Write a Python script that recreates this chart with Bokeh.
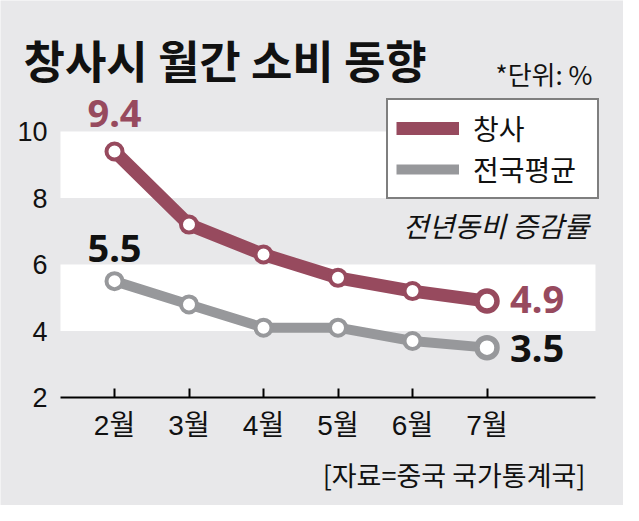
from bokeh.plotting import figure
from bokeh.models import (ColumnDataSource, BoxAnnotation, Label, Legend, LegendItem,
                          FixedTicker)
from bokeh.core.properties import value
from bokeh.embed import file_html
from bokeh.resources import INLINE

# ---- data ----
months = ["2월", "3월", "4월", "5월", "6월", "7월"]
changsha = [9.4, 7.2, 6.3, 5.6, 5.2, 4.9]
national = [5.5, 4.8, 4.1, 4.1, 3.7, 3.5]
y_ticks = [2, 4, 6, 8, 10]
bands = [(4, 6), (8, 10)]
series_names = ["창사", "전국평균"]

title_text = "창사시 월간 소비 동향"
unit_text = "*단위: %"
note_text = "전년동비 증감률"
source_text = "[자료=중국 국가통계국]"

# ---- styles / layout ----
BG = "#e8e8ea"
MAROON = "#974a5e"
GRAY = "#97989b"
INK = "#111111"
CJK = "Noto Sans CJK KR"
NUM = "Liberation Sans, Noto Sans CJK KR"

W, H = 623, 505
X_RANGE = (-1.5302, 6.8322)
Y_RANGE = (-1.248, 13.94)
PLOT_X = (-0.7248, 6.456)      # extent of the plotting area (bands / axis line)
Y_BASE = 2

x = list(range(len(months)))

p = figure(width=W, height=H, output_backend="svg", toolbar_location=None,
           title=None, x_range=X_RANGE, y_range=Y_RANGE, min_border=0)
p.background_fill_color = BG
p.border_fill_color = BG
p.outline_line_color = None
p.grid.visible = False

for lo, hi in bands:
    p.add_layout(BoxAnnotation(left=PLOT_X[0], right=PLOT_X[1], bottom=lo, top=hi,
                               fill_color="white", fill_alpha=1,
                               line_color=None, level="underlay"))

# axes (fixed inside the frame)
p.xaxis.fixed_location = Y_BASE
p.xaxis.bounds = PLOT_X
p.xaxis.ticker = FixedTicker(ticks=x)
p.xaxis.major_label_overrides = {i: m for i, m in zip(x, months)}
p.xaxis.axis_line_color = "black"
p.xaxis.axis_line_width = 2
p.xaxis.major_tick_in = 9
p.xaxis.major_tick_out = 0
p.xaxis.major_tick_line_width = 2
p.xaxis.major_tick_line_color = "black"
p.xaxis.minor_tick_line_color = None
p.xaxis.major_label_text_font = NUM
p.xaxis.major_label_text_font_size = "28px"
p.xaxis.major_label_text_color = INK
p.xaxis.major_label_standoff = 12

p.yaxis.fixed_location = PLOT_X[0]
p.yaxis.ticker = FixedTicker(ticks=y_ticks)
p.yaxis.axis_line_color = None
p.yaxis.major_tick_line_color = None
p.yaxis.minor_tick_line_color = None
p.yaxis.major_label_text_font = NUM
p.yaxis.major_label_text_font_size = "27px"
p.yaxis.major_label_text_color = INK
p.yaxis.major_label_standoff = 7

# series
src = ColumnDataSource(dict(x=x, c=changsha, n=national))
r_c = p.line("x", "c", source=src, line_color=MAROON, line_width=13, line_join="round")
r_n = p.line("x", "n", source=src, line_color=GRAY, line_width=10, line_join="round")

for vals, color in ((changsha, MAROON), (national, GRAY)):
    s_mid = ColumnDataSource(dict(x=x[:-1], y=vals[:-1]))
    s_end = ColumnDataSource(dict(x=x[-1:], y=vals[-1:]))
    p.scatter("x", "y", source=s_mid, size=16, fill_color="white", line_color=color, line_width=4)
    p.scatter("x", "y", source=s_end, size=20, fill_color="white", line_color=color, line_width=5.5)

# value labels (first and last points)
lab_font = "Noto Sans"
first = ColumnDataSource(dict(x=[x[0], x[0]], y=[changsha[0], national[0]],
                              t=[f"{changsha[0]:.1f}", f"{national[0]:.1f}"],
                              c=[MAROON, INK], dy=[-38, -33]))
p.text("x", "y", text="t", source=first, text_color="c", y_offset="dy",
       text_font=value(lab_font), text_font_style="bold", text_font_size="38px",
       text_align="center", text_baseline="middle")
last = ColumnDataSource(dict(x=[x[-1], x[-1]], y=[changsha[-1], national[-1]],
                             t=[f"{changsha[-1]:.1f}", f"{national[-1]:.1f}"],
                             c=[MAROON, INK], dy=[-2, 1]))
p.text("x", "y", text="t", source=last, text_color="c", y_offset="dy", x_offset=23,
       text_font=value(lab_font), text_font_style="bold", text_font_size="38px",
       text_align="left", text_baseline="middle")

# legend
legend = Legend(items=[LegendItem(label=series_names[0], renderers=[r_c]),
                       LegendItem(label=series_names[1], renderers=[r_n])],
                location=(386, 306), margin=0, padding=8, spacing=1,
                glyph_width=63, glyph_height=30, label_height=30, label_width=116,
                label_standoff=14, label_text_font=CJK, label_text_font_size="28px",
                label_text_color=INK, border_line_color="black", border_line_width=2,
                background_fill_color="white", background_fill_alpha=1)
p.add_layout(legend, "center")

# texts (screen px from the canvas' bottom-left)
p.add_layout(Label(x=23, y=446, x_units="screen", y_units="screen", text=title_text,
                   text_font=CJK, text_font_style="bold", text_font_size="45px",
                   text_color=INK, text_baseline="middle", text_align="left"))
p.add_layout(Label(x=592, y=432, x_units="screen", y_units="screen", text=unit_text,
                   text_font=CJK, text_font_size="26px", text_color=INK,
                   text_baseline="middle", text_align="right"))
p.add_layout(Label(x=589, y=281, x_units="screen", y_units="screen", text=note_text,
                   text_font=CJK, text_font_style="italic", text_font_size="28px",
                   text_color=INK, text_baseline="middle", text_align="right"))
p.add_layout(Label(x=585, y=31, x_units="screen", y_units="screen", text=source_text,
                   text_font=CJK, text_font_size="27px", text_color=INK,
                   text_baseline="middle", text_align="right"))

open("out.html", "w").write(file_html(p, INLINE))
